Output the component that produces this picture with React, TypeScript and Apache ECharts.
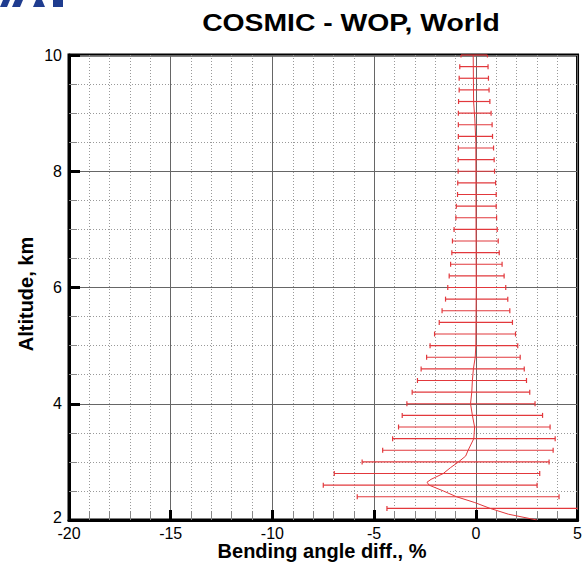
import React, { useEffect, useRef } from "react";
import * as echarts from "echarts";

const titleText = "COSMIC - WOP, World";
const xAxisTitle = "Bending angle diff., %";
const yAxisTitle = "Altitude, km";

const xMin = -20;
const xMax = 5;
const xStep = 5;
const yMin = 2;
const yMax = 10;
const yStep = 2;

// error bars: altitude (km), lower end, upper end (%)
const barAltitudes = [
  10.0, 9.8, 9.6, 9.4, 9.2, 9.0, 8.8, 8.6, 8.4, 8.2, 8.0, 7.8, 7.6, 7.4, 7.2, 7.0,
  6.8, 6.6, 6.4, 6.2, 6.0, 5.8, 5.6, 5.4, 5.2, 5.0, 4.8, 4.6, 4.4, 4.2, 4.0, 3.8,
  3.6, 3.4, 3.2, 3.0, 2.8, 2.6, 2.4, 2.2,
];
const barLow = [
  -0.73, -0.79, -0.82, -0.82, -0.85, -0.86, -0.86, -0.86, -0.86, -0.87, -0.87, -0.89, -0.9, -0.96, -0.98, -1.07,
  -1.15, -1.18, -1.24, -1.31, -1.38, -1.49, -1.66, -1.8, -2.03, -2.25, -2.42, -2.69, -2.87, -3.13, -3.39, -3.62,
  -3.8, -4.09, -4.58, -5.59, -6.96, -7.5, -5.83, -4.37,
];
const barHigh = [
  0.57, 0.6, 0.62, 0.65, 0.69, 0.75, 0.8, 0.82, 0.87, 0.9, 0.92, 0.97, 1.0, 1.0, 1.02, 1.05,
  1.1, 1.15, 1.29, 1.39, 1.47, 1.57, 1.67, 1.8, 1.95, 2.06, 2.18, 2.38, 2.49, 2.65, 2.91, 3.28,
  3.65, 3.9, 3.8, 3.6, 3.14, 3.01, 4.09, 6.0,
];

// mean difference profile
const meanAltitudes = [
  10.0, 9.2, 8.9, 8.5, 7.0, 6.0, 5.0, 4.8, 4.6, 4.4, 4.2, 4.0, 3.8, 3.6, 3.4, 3.2,
  3.1, 3.0, 2.9, 2.8, 2.7, 2.65, 2.6, 2.5, 2.4, 2.3, 2.2, 2.1, 2.0,
];
const meanValues = [
  -0.13, -0.11, -0.05, 0.0, 0.01, 0.02, 0.0, -0.03, -0.12, -0.17, -0.2, -0.26, -0.17, -0.06, -0.1, -0.38,
  -0.5, -0.85, -1.25, -1.6, -2.2, -2.4, -2.3, -1.6, -0.95, -0.05, 0.7, 1.6, 3.0,
];

const FONT = "Arial, 'Liberation Sans', sans-serif";
const RED = "#e2383c";

export default function App() {
  const ref = useRef<HTMLDivElement>(null);

  useEffect(() => {
    if (!ref.current) return;
    const chart = echarts.init(ref.current, null, { renderer: "svg" });

    const barData = barAltitudes.map((a, i) => [a, barLow[i], barHigh[i]]);
    const meanData = meanAltitudes.map((a, i) => [meanValues[i], a]);

    const option: any = {
      animation: false,
      backgroundColor: "#fff",
      grid: {
        left: 69,
        right: 7,
        top: 55,
        bottom: 46,
        show: true,
        borderColor: "#000",
        borderWidth: 3,
        backgroundColor: "transparent",
      },
      xAxis: {
        type: "value",
        min: xMin,
        max: xMax,
        interval: xStep,
        axisLine: { show: true, onZero: false, lineStyle: { color: "#000", width: 3 } },
        axisTick: { show: true, inside: true, length: 10, lineStyle: { color: "#000", width: 3 } },
        minorTick: { show: true, splitNumber: 5, length: 9, lineStyle: { color: "#888", width: 1 } },
        axisLabel: { color: "#000", fontSize: 16, fontFamily: FONT, margin: 5 },
        splitLine: { show: true, lineStyle: { color: "#666", width: 1 } },
        minorSplitLine: { show: true, lineStyle: { color: "#999", width: 1, type: [1, 2] } },
      },
      yAxis: {
        type: "value",
        min: yMin,
        max: yMax,
        interval: yStep,
        axisLine: { show: true, onZero: false, lineStyle: { color: "#000", width: 3 } },
        axisTick: { show: true, inside: true, length: 11, lineStyle: { color: "#000", width: 3 } },
        minorTick: { show: true, splitNumber: 4, length: 8, lineStyle: { color: "#888", width: 1 } },
        axisLabel: { color: "#000", fontSize: 16, fontFamily: FONT, margin: 7, showMinLabel: false },
        splitLine: { show: true, lineStyle: { color: "#666", width: 1 } },
        minorSplitLine: { show: true, lineStyle: { color: "#999", width: 1, type: [1, 2] } },
      },
      graphic: [
        { type: "polygon", shape: { points: [[3, 0], [10, 0], [7, 7], [0, 7]] }, style: { fill: "#1f3c8f" } },
        { type: "polygon", shape: { points: [[15, 0], [23, 0], [20, 7], [12, 7]] }, style: { fill: "#1f3c8f" } },
        { type: "polygon", shape: { points: [[36, 0], [42, 0], [45, 7], [33, 7]] }, style: { fill: "#1f3c8f" } },
        { type: "rect", shape: { x: 53, y: 0, width: 10, height: 7 }, style: { fill: "#1f3c8f" } },
        {
          type: "text",
          x: 62,
          y: 525,
          style: {
            text: String(yMin),
            fontSize: 16,
            fontFamily: FONT,
            fill: "#000",
            align: "right",
            verticalAlign: "bottom",
          },
        },
        {
          type: "text",
          x: 351,
          y: 23,
          scaleX: 1.18,
          style: {
            text: titleText,
            fontSize: 24,
            fontWeight: "bold",
            fontFamily: FONT,
            fill: "#000",
            align: "center",
            verticalAlign: "middle",
          },
        },
        {
          type: "text",
          x: 322,
          y: 551,
          style: {
            text: xAxisTitle,
            fontSize: 20,
            fontWeight: "bold",
            fontFamily: FONT,
            fill: "#000",
            align: "center",
            verticalAlign: "middle",
          },
        },
        {
          type: "text",
          x: 26,
          y: 294,
          rotation: Math.PI / 2,
          style: {
            text: yAxisTitle,
            fontSize: 20,
            fontWeight: "bold",
            fontFamily: FONT,
            fill: "#000",
            align: "center",
            verticalAlign: "middle",
          },
        },
      ],
      series: [
        {
          type: "custom",
          data: barData,
          encode: { x: [1, 2], y: 0 },
          z: 3,
          renderItem: (params: any, api: any) => {
            const alt = api.value(0);
            const lo = api.value(1);
            const hi = api.value(2);
            const cs = params.coordSys;
            const p1 = api.coord([lo, alt]);
            const p2 = api.coord([hi, alt]);
            const left = cs.x;
            const right = cs.x + cs.width;
            const top = cs.y;
            const bottom = cs.y + cs.height;
            const x1 = Math.max(p1[0], left);
            const x2 = Math.min(p2[0], right);
            const y = p1[1];
            const children: any[] = [];
            const st = { stroke: RED, lineWidth: 1.2 };
            const h = 2.5;
            const clampY = (v: number) => Math.min(Math.max(v, top), bottom);
            children.push({ type: "line", shape: { x1, y1: y, x2, y2: y }, style: st });
            if (p1[0] >= left) {
              children.push({ type: "line", shape: { x1: p1[0], y1: clampY(y - h), x2: p1[0], y2: clampY(y + h) }, style: st });
            }
            if (p2[0] <= right) {
              children.push({ type: "line", shape: { x1: p2[0], y1: clampY(y - h), x2: p2[0], y2: clampY(y + h) }, style: st });
            }
            return { type: "group", children };
          },
        },
        {
          type: "line",
          data: meanData,
          showSymbol: false,
          symbol: "none",
          z: 4,
          clip: true,
          lineStyle: { color: RED, width: 1 },
        },
      ],
    };

    chart.setOption(option);
    return () => chart.dispose();
  }, []);

  return <div ref={ref} style={{ width: 585, height: 566, position: "absolute", left: 0, top: 0 }} />;
}
